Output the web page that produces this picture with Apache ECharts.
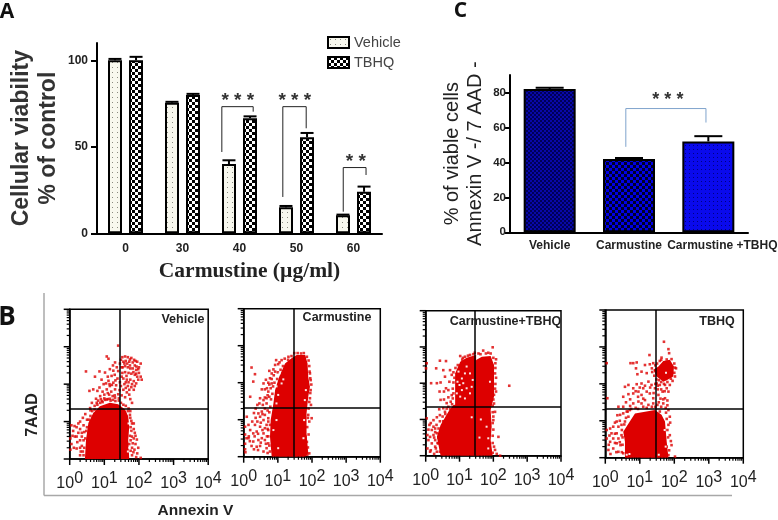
<!DOCTYPE html>
<html><head><meta charset="utf-8">
<style>html,body{margin:0;padding:0;background:#fff}#c{width:778px;height:520px;filter:blur(0.35px)}</style>
<script src="https://cdn.jsdelivr.net/npm/echarts@6/dist/echarts.min.js"></script>
</head><body><div id="c"></div>
<script>
// ---------- Panel A ----------
var doseLabels = ['0','30','40','50','60'];
var vehicleValues = [100,75.5,40,15,10.5];
var vehicleErrTop = [100.8,76,42.2,15.8,10.8];
var tbhqValues = [100,80,66.5,55.5,24];
var tbhqErrTop = [102,80.6,67.6,58,27];
// category, left offset, right offset (share of band), left foot, top, right foot, stars, star centre offset, star level
var bracketsA = [
  [2,-0.31,0.24,47,73.2,70.3,'* * *',-0.03,76.5],
  [3,-0.24,0.17,21,73.2,60.7,'* * *',-0.03,76.5],
  [4,-0.18,0.22,12.5,38,33.7,'* *',0.04,41.5]
];
// ---------- Panel C ----------
var groupLabels = ['Vehicle','Carmustine','Carmustine +TBHQ'];
var viableValues = [82,42,52];
var viableErrTop = [82.7,42.5,55];
var bracketsC = [[1,-0.04,0.97,48.9,70.8,62.8,'* * *',0.49,75.5]];
// ---------- Panel B: values in decades of the log axes ----------
var decadeLabels = [0,1,2,3,4];
var minorLogTicks = [0.301,0.477,0.602,0.699,0.778,0.845,0.903,0.954];
var panelNames = ['Vehicle','Carmustine','Carmustine+TBHQ','TBHQ'];
var quadX = [1.445,1.46,1.46,1.47];
var quadY = [1.35,1.32,1.34,1.33];

var vehicleDense = [[[.44,0],[.47,.51],[.54,.96],[.68,1.23],[.87,1.41],[1.16,1.5],[1.4,1.46],[1.6,1.32],[1.69,1.14],[1.72,.87],[1.69,.51],[1.72,0]]];
var vehicleDots = [[1.52,2.72],[1.6,2.74],[1.68,2.72],[1.78,2.7],[1.9,2.62],[1.95,2.6],[2.05,2.55],[1.55,2.6],[1.62,2.62],[1.72,2.6],[1.82,2.58],[1.88,2.5],[2,2.45],[1.53,2.45],[1.6,2.48],[1.68,2.45],[1.75,2.42],[1.82,2.42],[1.92,2.38],[2,2.3],[2.05,2.2],[1.52,2.3],[1.6,2.32],[1.7,2.3],[1.78,2.28],[1.88,2.25],[1.95,2.2],[1.98,2.12],[2.08,2.12],[1.55,2.15],[1.65,2.12],[1.75,2.12],[1.85,2.08],[1.92,2.02],[1.58,2],[1.68,1.95],[1.78,1.92],[1.85,1.85],[1.55,1.85],[1.65,1.78],[1.72,1.72],[1.6,1.65],[1.5,1.7],[1.75,1.6],[1.8,1.5],[1.66,2.55],[1.74,2.5],[1.84,2.32],[1.64,2.22],[1.93,2.47],
[1.07,2.74],[1.12,2.68],[.47,2.34],[.73,2.2],[.86,2.34],[1.02,2.31],[1.16,2.4],[1.26,2.36],[1.21,2.22],[1.12,2.09],[1.36,2.45],[1.31,2.58],[1.4,3.03],[.57,1.82],[.68,1.86],[.86,1.91],[1,1.72],[1.16,1.95],[1.26,2.04],[1.07,1.86],[1.14,1.72],[1.31,1.86],[1.24,1.68],[.88,1.68],[.76,1.61],[1.07,1.59],[1.16,1.61],[1.31,1.64],[1.4,1.73],[.64,1.5],[.78,1.5],[.93,1.55],[.59,1.36],[1.2,1.8],[1.34,1.97],[.95,1.8],[1.1,2.2],[1.38,2.15],[1.3,2.25],
[.05,.9],[.1,.75],[.2,.85],[.15,.6],[.3,1],[.25,.95],[.3,.8],[.35,.7],[.4,.9],[.05,.4],[.12,.3],[.2,.28],[.3,.5],[.35,.35],[.38,.2],[.3,.1],[.4,.5],[.38,1.1],[.45,1.2],[.5,1.05],[.42,.72],
[1.75,1.1],[1.8,.95],[1.78,.75],[1.85,.8],[1.8,.6],[1.85,.55],[1.9,.4],[1.8,.3],[1.87,.25],[1.95,.15],[1.8,.1],[1.92,.05],[2.05,.03],[1.85,.95],[1.72,.4],[1.76,.5],[1.9,.62],[1.84,.18],[1.75,1.28],[1.7,1.35],
[.4,.1],[.42,.3],[.45,.55],[.48,.75],[.5,.85],[.55,1.05],[.6,1.15],[.65,1.28],[.72,1.32],[.8,1.45],[.88,1.5],[.95,1.52],[1.02,1.58],[1.1,1.6],[1.18,1.56],[1.25,1.58],[1.32,1.55],[1.42,1.56],[1.48,1.5],[1.55,1.45],[1.62,1.42],[1.68,1.28],[1.74,1.18],[1.78,1.02],[1.76,.85],[1.74,.62],[1.76,.22],[1.82,.42],[1.88,.7],[1.94,.52],[1.98,.3],[.3,.3],[.35,.6],[.2,.6],[.14,.88],[.08,.62],[.02,.55],[.02,.25],[.25,.7],[.32,.2],[.22,.45],[1.42,1.62],[1.3,1.7],[1.44,1.84],[1.1,1.76],[1,1.62],[.9,1.6],[.82,1.56],[.72,1.42],[.6,1.3],
[1.48,1.95],[1.45,2.05],[1.4,2.35],[1.32,2.1],[1.22,1.98],[1.05,2.02],[1.15,2],[.98,2],[.8,1.82],[.92,2.12],[1.25,2.5],[1.45,2.55],[1.48,2.65],[1.5,2.2],[1.62,2.05],[1.7,2.05],[1.8,2],[1.88,1.95],[1.72,1.85],[1.62,1.9],[1.5,2.45],[1.58,2.55],[1.86,2.65],[1.74,2.66],[1.92,2.28],[1.98,2.4]];
var vehicleHoles = [[1.75,.7],[1.72,.3],[1.7,.95],[1.68,.2]];

var carmDense = [[[.82,0],[.77,.54],[.79,.99],[.87,1.44],[.92,1.8],[1.04,2.16],[1.21,2.52],[1.4,2.66],[1.55,2.75],[1.8,2.75],[1.87,2.52],[1.89,2.16],[1.94,1.89],[1.89,1.62],[1.84,1.17],[1.84,.63],[1.89,.09],[1.8,0]]];
var carmDots = [[.23,2.41],[.33,2.23],[.28,2.03],[.19,1.62],[.4,1.4],[.58,1.98],[.53,1.82],[.62,1.82],[.72,1.76],[.48,1.58],[.58,1.53],[.67,1.58],[.46,1.44],[.56,1.4],[.67,1.44],[.75,2.32],[.82,2.25],[.87,2.36],[.95,2.61],[1.01,2.5],[.77,2.12],[.72,2],[.82,1.98],[.79,1.85],[.92,2.48],[1.11,2.61],[1.31,2.7],
[.09,1.08],[.14,.86],[.04,.81],[.33,.86],[.19,.72],[.28,.63],[.43,1.17],[.48,1.08],[.53,1.22],[.58,.99],[.62,1.13],[.67,.86],[.72,1.04],[.48,.81],[.38,.68],[.58,.63],[.53,.5],[.43,.45],[.28,.41],[.23,.29],[.38,.27],[.48,.29],[.62,.45],[.72,.36],[.67,.23],[.58,.14],[.77,.14],[.62,.77],[.72,.72],[.77,.86],[.04,.6],[.04,.35],[.04,.2],[.14,.5],
[1.94,2.25],[1.96,2.07],[1.96,1.8],[1.94,1.58],[1.97,1.4],[1.99,1.04],[1.89,1.13],[1.92,.95],[1.81,.54],[1.92,.09],
[.75,.3],[.72,.55],[.7,.75],[.72,.95],[.75,1.2],[.78,1.35],[.8,1.55],[.84,1.7],[.86,1.9],[.9,2],[.98,2.1],[1,2.28],[1.08,2.35],[1.15,2.45],[1.05,2.55],[1.2,2.65],[1.3,2.62],[1.4,2.72],[1.48,2.8],[1.58,2.8],[1.68,2.79],[1.76,2.8],[1.85,2.7],[1.9,2.6],[1.92,2.45],[1.93,2.3],[1.95,2.12],[1.98,1.95],[1.95,1.72],[1.92,1.48],[1.9,1.3],[1.88,1.05],[1.86,.8],[1.9,.6],[1.85,.4],[1.88,.25],[1.86,.05],[.7,.1],[.65,.35],[.68,.55],[.55,.72],[.5,.92],[.4,.95],[.35,1.05],[.3,1.18],[.25,.95],[.15,.55],[.08,.5],[.05,.12],[.18,.42],[.32,.55],[.42,.62],[.5,.38],[.42,.18],[.3,.2],[.62,1.3],[.7,1.25],[.55,1.15],[.35,1.3],[.62,1.6],[.7,1.66],[.75,1.62],[.68,1.85],[.75,1.95],[.82,2.1],[.88,2.2],[.92,2.3],[.65,2.08]];
var carmHoles = [[1.11,1.98],[1.16,2.09],[1.01,1.67],[.96,1.44],[.96,.99],[.87,.72],[1.01,.23],[1.75,.5],[1.77,.99],[1.79,1.53],[1.82,1.8],[1.05,2.25],[.96,1.9]];

var combDense = [
  [[.44,0],[.33,.52],[.44,.85],[.67,1.21],[.82,1.4],[1.07,1.44],[1.41,1.49],[1.49,2.64],[1.66,2.73],[1.92,2.75],[2.02,2.5],[2.02,2],[2.02,1.63],[1.92,1.26],[1.95,.8],[1.92,.43],[1.98,0]],
  [[.87,1.4],[.87,2.27],[1.02,2.59],[1.21,2.7],[1.49,2.78],[1.49,1.4]]
];
var combDots = [[.42,2.62],[.6,2.61],[.31,2.41],[.03,2.55],[.01,2.41],[.16,2],[.33,2],[.44,2.02],[.52,2.36],[.72,2.36],[.57,2.18],[.77,2.23],[.7,2.04],[.6,1.86],[.41,1.77],[.54,1.77],[.67,1.81],[.44,1.54],[.54,1.55],[.67,1.61],[.77,1.67],[.74,1.49],[1.02,2.75],[1.16,2.73],[1.31,2.78],[1.41,2.8],[1.56,2.82],[1.7,2.9],[1.85,2.84],[1.98,2.99],[2.08,2.66],[2.05,2.27],[2.47,1.93],[2.08,1.77],[2.02,1.44],[2.05,1.21],[2,.98],[2.15,.52],[2.05,.16],[2.2,0],
[.03,1.03],[.23,.98],[.33,1.06],[.52,1.31],[.67,1.35],[.42,1.12],[.57,1.21],[.05,.57],[.13,.52],[.23,.57],[.33,.62],[.08,.43],[.18,.34],[.05,.2],[.13,.11],[.28,.43],[.28,.25],[.33,.11],[.42,.11],[.37,.34],[.23,.8],[.28,.75],[.18,.71],[.11,.85],
[.25,.05],[.3,.2],[.35,.35],[.28,.65],[.38,.75],[.42,.95],[.5,1.08],[.58,1.15],[.62,1.3],[.72,1.28],[.78,1.42],[.62,1.45],[.8,1.58],[.82,1.72],[.8,1.85],[.82,2.02],[.85,2.15],[.82,2.3],[.88,2.42],[.95,2.5],[1.08,2.65],[1.1,2.7],[1.25,2.76],[1.45,2.84],[1.62,2.8],[1.78,2.82],[1.92,2.82],[2,2.7],[2.06,2.55],[2.06,2.42],[2.08,2.15],[2.06,1.98],[2.05,1.85],[2.02,1.68],[2,1.55],[1.98,1.38],[1.98,1.2],[2,1.08],[1.98,.9],[2,.72],[1.98,.55],[1.98,.35],[2.02,.25],[1.98,.08],[2.1,.05],[.45,.2],[.5,.05],[.38,.5],[.45,.65],[.52,.95],[.15,.15],[.25,.5],[.32,.85],[.15,.9],[.4,1.28],[.08,.72]];
var combHoles = [[1.07,2.13],[1.16,2.27],[1,1.95],[1.11,2],[1.07,1.81],[1.21,1.86],[1.31,1.72],[.92,1.72],[1.31,2.27],[1.39,2.09],[.97,2.32],[1.21,2.46],[1.02,1.63],[1.16,1.58],[1.36,1.9],[.94,2.04],[1.36,1.06],[1.63,1],[1.59,.5],[1.85,.48],[1.9,2.04],[1.8,.8],[1.85,.2]];

var tbhqDense = [
  [[.57,0],[.57,.43],[.52,.7],[.71,.98],[.86,1.2],[1.44,1.29],[1.63,1.16],[1.73,.98],[1.78,.43],[1.83,0]],
  [[1.54,2.47],[1.68,2.62],[1.87,2.65],[1.99,2.47],[1.97,2.2],[1.78,2.1],[1.68,2.06],[1.49,2.2],[1.39,2.38]]
];
var tbhqDots = [[1.7,3.14],[1.83,2.94],[1.85,2.83],[1.63,2.71],[1.28,2.78],[2.02,2.44],[.91,2.58],[.81,2.56],[.73,2.56],[.89,2.42],[1.15,2.51],[1.29,2.53],[1.39,2.56],[1.05,2.33],[.93,2.26],[1.2,2.29],[.04,2.56],[.06,1.61],[.57,1.92],[.67,1.97],[.81,1.88],[.91,1.99],[1.05,2.01],[1.1,1.88],[1.25,2.06],[1.34,1.97],[1.44,1.88],[.52,1.65],[.67,1.72],[.81,1.74],[.96,1.79],[1.05,1.7],[1.2,1.79],[1.29,1.74],[1.39,1.61],[1.54,1.7],[1.66,1.79],[1.83,1.79],[1.73,1.97],[1.58,1.97],[1.49,2.01],[1.87,1.97],[.38,1.38],[.52,1.38],[.81,1.47],[.96,1.52],[1.05,1.47],[1.15,1.56],[1.25,1.43],[1.39,1.47],[1.51,1.43],[1.68,1.47],[1.73,1.61],[1.83,1.29],[1.87,1.11],[1.83,.89],[1.87,.61],[1.92,.34],[1.83,.07],[2.02,.03],
[.04,.75],[.14,.79],[.23,.84],[.33,.98],[.43,1.16],[.52,1.2],[.62,1.25],[.71,1.29],[.38,.84],[.18,.66],[.33,.66],[.04,.52],[.14,.43],[.23,.52],[.38,.52],[.47,.61],[.09,.21],[.23,.25],[.33,.39],[.44,.34],[.38,.16],[.52,.12],[.47,.89],[.57,.98],[.67,1.11],
[1.45,2.5],[1.5,2.55],[1.58,2.62],[1.62,2.65],[1.78,2.66],[1.92,2.67],[2,2.55],[2.05,2.42],[2,2.3],[2.02,2.2],[1.9,2.14],[1.95,2.08],[1.8,2.05],[1.7,2],[1.62,2.05],[1.55,2.1],[1.48,2.12],[1.42,2.22],[1.36,2.32],[1.35,2.42],[1.52,1.85],[1.62,1.85],[1.72,1.8],[1.78,1.88],[1.6,1.6],[1.68,1.58],[1.8,1.55],[1.55,1.5],[1.62,1.38],[1.75,1.35],[1.8,1.42],[1.58,1.25],[1.45,1.38],[1.35,1.38],[1.2,1.35],[1.1,1.38],[.95,1.32],[.88,1.35],[.75,1.32],[.65,1.25],[.72,1.4],[.6,1.08],[.55,.9],[.48,.75],[.5,.55],[.5,.35],[.48,.15],[.42,.42],[.32,.15],[.15,.1],[.1,.35],[.28,.4],[.28,.65],[.12,.6],[.42,1],[.35,1.15],[.28,.95],[1.78,1.05],[1.8,.75],[1.82,.55],[1.78,.3],[1.85,.2],[1.76,1.22],[1.88,.95],[1.9,.45],[1.4,1.75],[1.3,1.9],[1.1,1.6],[.95,1.65],[.88,1.8],[.72,1.58],[.6,1.5],[1,1.9],[1.15,1.95],[1.45,2],[1.52,1.95]];
var tbhqHoles = [[1.75,.3],[1.72,.75],[1.76,2.3],[1.55,.08],[.7,.1],[.62,.08]];

var flowDense = [vehicleDense,carmDense,combDense,tbhqDense];
var flowDots = [vehicleDots,carmDots,combDots,tbhqDots];
var flowHoles = [vehicleHoles,carmHoles,combHoles,tbhqHoles];

// ---------- layout and style ----------
var SANS = '"Liberation Sans",Arial,sans-serif';
var RED = '#dd0000';
var flowGrids = [
  {left:69.7,top:309.3,width:138.5,height:149.7},
  {left:243.7,top:308.7,width:136.6,height:148},
  {left:425.7,top:310.7,width:135.3,height:145},
  {left:605.3,top:310,width:138,height:147.7}
];
var flowTitlePos = [[183,320],[337,318],[505.5,322],[717,322]];

function tile(w,h,bg,draw){
  var c=document.createElement('canvas');c.width=w;c.height=h;
  var g=c.getContext('2d');g.fillStyle=bg;g.fillRect(0,0,w,h);draw(g);
  return {image:c,repeat:'repeat'};
}
var dotTile = tile(5,5,'#f8f8ee',function(g){g.fillStyle='#8a8a80';g.fillRect(2,2,1,1);});
var checkTile = tile(6,6,'#fff',function(g){g.fillStyle='#000';g.fillRect(0,0,3,3);g.fillRect(3,3,3,3);});
var blueFine = tile(4,4,'#0808a8',function(g){g.fillStyle='#000058';g.fillRect(0,0,2,2);g.fillRect(2,2,2,2);});
var blueCheck = tile(6,6,'#0000e6',function(g){g.fillStyle='#00002a';g.fillRect(0,0,3,3);g.fillRect(3,3,3,3);});
var blueDots = tile(4,4,'#0a0aec',function(g){g.fillStyle='#000080';g.fillRect(1,1,1,1);});
var blueTiles = [blueFine,blueCheck,blueDots];

function errorBars(name,xi,yi,values,tops,shift,capWidth){
  return {type:'custom',name:name,xAxisIndex:xi,yAxisIndex:yi,z:5,silent:true,
    data:values.map(function(v,i){return [i,v,tops[i]];}),
    renderItem:function(p,api){
      var off=api.size([1,0])[0]*shift;
      var a=api.coord([api.value(0),api.value(1)]), b=api.coord([api.value(0),api.value(2)]);
      var x=a[0]+off, st={stroke:'#000',lineWidth:2};
      return {type:'group',children:[
        {type:'line',shape:{x1:x,y1:a[1],x2:x,y2:b[1]},style:st},
        {type:'line',shape:{x1:x-capWidth/2,y1:b[1],x2:x+capWidth/2,y2:b[1]},style:st}
      ]};
    }};
}
function brackets(name,xi,yi,rows,color,lw,starFont,starColor){
  return {type:'custom',name:name,xAxisIndex:xi,yAxisIndex:yi,z:6,silent:true,
    data:rows.map(function(r,i){return [r[0],i];}),
    renderItem:function(p,api){
      var r=rows[p.dataIndex], band=api.size([1,0])[0];
      var cx=api.coord([r[0],0])[0];
      var yOf=function(v){return api.coord([r[0],v])[1];};
      var xl=cx+r[1]*band, xr=cx+r[2]*band;
      return {type:'group',children:[
        {type:'polyline',shape:{points:[[xl,yOf(r[3])],[xl,yOf(r[4])],[xr,yOf(r[4])],[xr,yOf(r[5])]]},style:{stroke:color,lineWidth:lw,fill:null}},
        {type:'text',style:{text:r[6],x:cx+r[7]*band,y:yOf(r[8]),textAlign:'center',textVerticalAlign:'middle',font:starFont,fill:starColor}}
      ]};
    }};
}

var grids=[{left:97,top:43,width:285,height:190.3,outerBoundsMode:'none'},{left:510,top:75,width:238,height:157.3,outerBoundsMode:'none'}];
var xAxes=[
 {type:'category',gridIndex:0,data:doseLabels,axisLine:{lineStyle:{color:'#000',width:2}},axisTick:{show:false},
  axisLabel:{interval:0,color:'#222',fontFamily:SANS,fontWeight:'bold',fontSize:12,margin:9},
  name:'Carmustine (µg/ml)',nameLocation:'middle',nameGap:27,
  nameTextStyle:{fontFamily:'"Liberation Serif",serif',fontWeight:'bold',fontSize:21.5,color:'#222',padding:[0,0,0,20]}},
 {type:'category',gridIndex:1,data:groupLabels,axisLine:{lineStyle:{color:'#000',width:2}},axisTick:{show:false},
  axisLabel:{interval:0,color:'#222',margin:7,fontFamily:SANS,fontWeight:'bold',fontSize:12,
   formatter:function(v,i){return i===2?'{s|'+v+'}':v;},rich:{s:{padding:[0,0,0,28],fontFamily:SANS,fontWeight:'bold',fontSize:12,color:'#222'}}}}
];
var yAxes=[
 {type:'value',gridIndex:0,min:0,max:110,splitLine:{show:false},
  axisLine:{show:true,lineStyle:{color:'#000',width:2}},
  axisTick:{show:true,length:6,customValues:[0,50,100],lineStyle:{width:2,color:'#000'}},
  axisLabel:{customValues:[0,50,100],color:'#222',fontFamily:SANS,fontWeight:'bold',fontSize:12,margin:9},
  name:'Cellular viability\n% of control',nameLocation:'middle',nameGap:35,
  nameTextStyle:{fontFamily:SANS,fontWeight:'bold',fontSize:23,lineHeight:27,color:'#333'}},
 {type:'value',gridIndex:1,min:0,max:90,splitLine:{show:false},
  axisLine:{show:true,lineStyle:{color:'#000',width:2}},
  axisTick:{show:true,length:5,customValues:[0,20,40,60,80],lineStyle:{width:2,color:'#000'}},
  axisLabel:{customValues:[0,20,40,60,80],color:'#222',fontFamily:SANS,fontWeight:'bold',fontSize:11.5,margin:4},
  name:'% of viable cells\nAnnexin V -/ 7 AAD -',nameLocation:'middle',nameGap:23,
  nameTextStyle:{fontFamily:SANS,fontSize:20,lineHeight:23,color:'#222'}}
];
var barStyle=function(c){return {color:c,borderColor:'#000',borderWidth:2};};
var series=[
 {type:'bar',name:'Vehicle',xAxisIndex:0,yAxisIndex:0,barWidth:14,barGap:'50%',data:vehicleValues,itemStyle:barStyle(dotTile),silent:true},
 {type:'bar',name:'TBHQ',xAxisIndex:0,yAxisIndex:0,barWidth:14,barGap:'50%',data:tbhqValues,itemStyle:barStyle(checkTile),silent:true},
 errorBars('vehicle error',0,0,vehicleValues,vehicleErrTop,-0.185,13),
 errorBars('tbhq error',0,0,tbhqValues,tbhqErrTop,0.185,13),
 brackets('brackets A',0,0,bracketsA,'#222',1,'bold 19px '+SANS,'#333'),
 {type:'bar',name:'Viable',xAxisIndex:1,yAxisIndex:1,barWidth:52,silent:true,
  data:viableValues.map(function(v,i){return {value:v,itemStyle:barStyle(blueTiles[i])};})},
 errorBars('viable error',1,1,viableValues,viableErrTop,0,28),
 brackets('bracket C',1,1,bracketsC,'#7fa3cc',1,'bold 18px '+SANS,'#333')
];

flowGrids.forEach(function(g,k){
  var xi=k+2;
  grids.push(Object.assign({show:true,borderColor:'#000',borderWidth:1.5,backgroundColor:'transparent',outerBoundsMode:'none'},g));
  xAxes.push({type:'value',gridIndex:xi,min:0,max:4,splitLine:{show:false},
    axisLine:{show:true,lineStyle:{color:'#000',width:1.5}},axisTick:{show:false},
    axisLabel:{customValues:decadeLabels,margin:12,color:'#222',
      formatter:function(v){return '{a|10}{b|'+v+'}';},
      rich:{a:{fontFamily:'"Liberation Sans Narrow","Liberation Sans",sans-serif',fontSize:16,color:'#222'},
            b:{fontFamily:'"Liberation Sans Narrow","Liberation Sans",sans-serif',fontSize:16,color:'#222',padding:[0,0,9,0]}}}});
  yAxes.push({type:'value',gridIndex:xi,min:0,max:4,splitLine:{show:false},
    axisLine:{show:true,lineStyle:{color:'#000',width:1.5}},axisTick:{show:false},axisLabel:{show:false}});
  series.push({type:'custom',name:'dense '+k,xAxisIndex:xi,yAxisIndex:xi,z:2,silent:true,
    data:flowDense[k].map(function(_,i){return [i];}),
    renderItem:function(p,api){
      return {type:'polygon',shape:{points:flowDense[k][p.dataIndex].map(function(pt){return api.coord(pt);})},style:{fill:RED}};
    }});
  series.push({type:'scatter',name:'events '+k,xAxisIndex:xi,yAxisIndex:xi,z:3,silent:true,symbol:'rect',symbolSize:2.6,
    data:flowDots[k],itemStyle:{color:RED}});
  series.push({type:'scatter',name:'gaps '+k,xAxisIndex:xi,yAxisIndex:xi,z:3,silent:true,symbol:'rect',symbolSize:2,
    data:flowHoles[k],itemStyle:{color:'#fff',opacity:.9},
    markLine:{silent:true,symbol:'none',animation:false,label:{show:false},lineStyle:{color:'#000',width:1.5,type:'solid'},z:8,
      data:[{xAxis:quadX[k]},{yAxis:quadY[k]}]}});
  var logTicks=[];
  decadeLabels.forEach(function(d){
    logTicks.push([d,1]);
    if(d<4) minorLogTicks.forEach(function(m){logTicks.push([d+m,0]);});
  });
  series.push({type:'custom',name:'log ticks '+k,xAxisIndex:xi,yAxisIndex:xi,z:7,silent:true,data:logTicks,
    renderItem:function(p,api){
      var v=api.value(0), major=api.value(1), len=major?6:3;
      var a=api.coord([v,0]), b=api.coord([0,v]);
      var st={stroke:'#000',lineWidth:major?1.5:1.2};
      return {type:'group',children:[
        {type:'line',shape:{x1:a[0],y1:a[1],x2:a[0],y2:a[1]+len},style:st},
        {type:'line',shape:{x1:b[0]-len,y1:b[1],x2:b[0],y2:b[1]},style:st}
      ]};
    }});
});

function label(text,x,y,font,fill,rotation,align){
  return {type:'text',x:x,y:y,rotation:rotation||0,silent:true,z:20,
    style:{text:text,x:0,y:0,textAlign:align||'center',textVerticalAlign:'middle',font:font,fill:fill||'#222'}};
}
var graphics=[
  label('A',7,12,'bold 21px "Open Sans",sans-serif','#111'),
  label('B',7,318,'bold 26px "Open Sans",sans-serif','#111'),
  label('C',460.5,11,'bold 21px "Open Sans",sans-serif','#111'),
  label('7AAD',33,415,'bold 16px '+SANS,'#222',Math.PI/2),
  label('Annexin V',195.5,511,'bold 15.5px '+SANS,'#222'),
  {type:'line',silent:true,z:1,shape:{x1:44,y1:293,x2:44,y2:495.5},style:{stroke:'#a8a8a8',lineWidth:1.5}},
  {type:'line',silent:true,z:1,shape:{x1:44,y1:495.5,x2:732,y2:495.5},style:{stroke:'#a8a8a8',lineWidth:1.5}}
];
panelNames.forEach(function(n,i){graphics.push(label(n,flowTitlePos[i][0],flowTitlePos[i][1],'bold 12.5px '+SANS,'#222'));});

var chart=echarts.init(document.getElementById('c'),null,{width:778,height:520});
chart.setOption({
  animation:false,backgroundColor:'#fff',
  grid:grids,xAxis:xAxes,yAxis:yAxes,series:series,graphic:graphics,
  legend:{data:['Vehicle','TBHQ'],orient:'vertical',left:322,top:30,icon:'rect',itemWidth:21,itemHeight:11,itemGap:5,selectedMode:false,
    textStyle:{fontFamily:SANS,fontSize:14.5,color:'#444'}}
});
</script></body></html>
